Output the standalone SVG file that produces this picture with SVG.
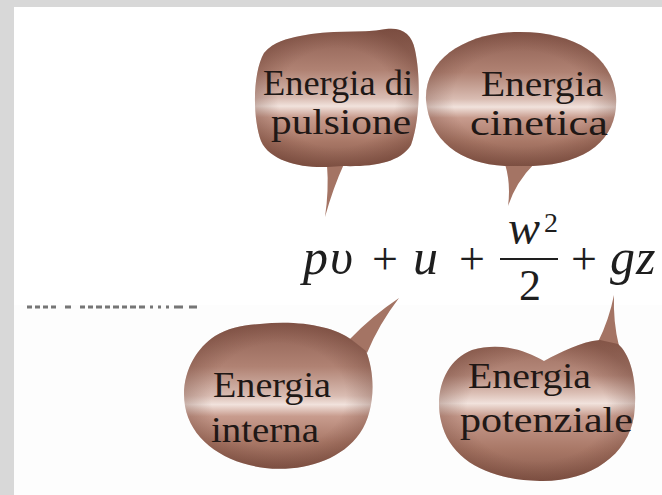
<svg xmlns="http://www.w3.org/2000/svg" xmlns:xlink="http://www.w3.org/1999/xlink" width="662" height="495" viewBox="0 0 662 495">
<style>
.lbl{font-family:"Liberation Serif","Times New Roman",serif;font-size:35px;fill:#1f1816}
.m{font-family:"Liberation Serif","Times New Roman",serif;fill:#1e1e1e}
.it{font-style:italic}
.edge{fill:url(#edge)}
.tail{fill:#a47464}
</style>
<defs>
<linearGradient id="g1" x1="0" y1="0" x2="0" y2="1">
<stop offset="0" stop-color="#8d5e51"/><stop offset="0.3" stop-color="#b08273"/><stop offset="0.5" stop-color="#d9bcb2"/><stop offset="0.56" stop-color="#f1e2dc"/><stop offset="0.64" stop-color="#c89c8e"/><stop offset="0.82" stop-color="#a87766"/><stop offset="1" stop-color="#885a4c"/>
</linearGradient>
<linearGradient id="g4" x1="0" y1="0" x2="0" y2="1">
<stop offset="0" stop-color="#9a6a5b"/><stop offset="0.25" stop-color="#b68a7c"/><stop offset="0.38" stop-color="#dcc0b6"/><stop offset="0.45" stop-color="#f1e2dc"/><stop offset="0.54" stop-color="#c89c8e"/><stop offset="0.78" stop-color="#a87766"/><stop offset="1" stop-color="#87594b"/>
</linearGradient>
<radialGradient id="edge" cx="0.5" cy="0.5" r="0.55">
<stop offset="0.65" stop-color="#5a2e22" stop-opacity="0"/><stop offset="1" stop-color="#5a2e22" stop-opacity="0.35"/>
</radialGradient>
<path id="b1" d="M300,36 C330,29 360,34 386,29 C402,27 412,34 415,50 C421,78 420,120 411,145 C400,163 372,167 342,166 L327,167 C300,168 270,161 261,141 C252,116 253,72 264,53 C274,41 287,39 300,36 Z"/>
<path id="b2" d="M520,32 C575,32 612,56 616,96 C619,136 590,164 533,166 L505,166 C460,164 429,140 426,100 C424,60 465,32 520,32 Z"/>
<path id="b3" d="M260,324 C298,320 333,326 352,340 L366,351 C376,376 375,411 360,433 C340,462 300,472 265,468 C225,463 191,441 185,406 C180,376 195,349 215,336 C228,328 244,325 260,324 Z"/>
<path id="b4" d="M472,350 C500,342 525,350 544,361 C561,352 580,342 600,340 L618,344 C632,356 638,386 634,416 C628,455 590,482 540,481 C490,480 450,461 441,421 C434,391 446,360 472,350 Z"/>
</defs>
<rect x="0" y="0" width="662" height="495" fill="#ffffff"/>
<rect x="14" y="305" width="648" height="190" fill="#fdfdfd"/>
<rect x="0" y="0" width="662" height="7" fill="#d8d8d8"/>
<rect x="0" y="0" width="14" height="495" fill="#d8d8d8"/>
<line x1="27" y1="307" x2="197" y2="307" stroke="#555" stroke-width="3" stroke-dasharray="5 3 5 3 5 3 5 9 6 9 5 3 5 3 6 3 5 3 6 3 5 3 6 3 6" opacity="0.8"/>
<g id="connectors">
<path class="tail" d="M327,165 Q329,190 325,217 Q333,188 344,164 Z"/>
<path class="tail" d="M505,164 Q511,184 508,206 Q516,182 534,164 Z"/>
<path class="tail" d="M350,339 Q372,316 399,298 Q379,324 367,353 Z"/>
<path class="tail" d="M598,342 Q609,320 614,295 Q613,322 619,346 Z"/>
</g>
<g id="node-pulsione">
<use xlink:href="#b1" fill="url(#g1)"/><use xlink:href="#b1" class="edge"/>
<text class="lbl" x="263" y="95" textLength="150" lengthAdjust="spacingAndGlyphs">Energia di</text>
<text class="lbl" x="271" y="134" textLength="140" lengthAdjust="spacingAndGlyphs">pulsione</text>
</g>
<g id="node-cinetica">
<use xlink:href="#b2" fill="url(#g1)"/><use xlink:href="#b2" class="edge"/>
<text class="lbl" x="481" y="96" textLength="122" lengthAdjust="spacingAndGlyphs">Energia</text>
<text class="lbl" x="470" y="135" textLength="138" lengthAdjust="spacingAndGlyphs">cinetica</text>
</g>
<g id="node-interna">
<use xlink:href="#b3" fill="url(#g1)"/><use xlink:href="#b3" class="edge"/>
<text class="lbl" x="213" y="397" textLength="118" lengthAdjust="spacingAndGlyphs">Energia</text>
<text class="lbl" x="211" y="442" textLength="108" lengthAdjust="spacingAndGlyphs">interna</text>
</g>
<g id="node-potenziale">
<use xlink:href="#b4" fill="url(#g4)"/><use xlink:href="#b4" class="edge"/>
<text class="lbl" x="468" y="388" textLength="123" lengthAdjust="spacingAndGlyphs">Energia</text>
<text class="lbl" x="460" y="432" textLength="173" lengthAdjust="spacingAndGlyphs">potenziale</text>
</g>
<g id="formula">
<text class="m it" x="303" y="274" font-size="50">p</text>
<text class="m it" x="330" y="274" font-size="50">υ</text>
<text class="m" x="385" y="274" font-size="46" text-anchor="middle">+</text>
<text class="m it" x="413" y="274" font-size="50">u</text>
<text class="m" x="472" y="274" font-size="46" text-anchor="middle">+</text>
<text class="m it" x="508" y="244" font-size="48">w</text>
<text class="m" x="544" y="232" font-size="28">2</text>
<line x1="500" y1="259" x2="558" y2="259" stroke="#1e1e1e" stroke-width="2"/>
<text class="m" x="530" y="300" font-size="44" text-anchor="middle">2</text>
<text class="m" x="584" y="274" font-size="46" text-anchor="middle">+</text>
<text class="m it" x="610" y="274" font-size="50">g</text>
<text class="m it" x="636" y="274" font-size="50">z</text>
</g>
</svg>
